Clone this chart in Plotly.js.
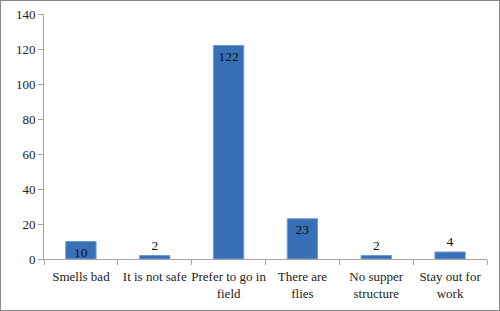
<!DOCTYPE html>
<html><head><meta charset="utf-8">
<script src="https://cdn.plot.ly/plotly-3.0.1.min.js"></script>
<style>html,body{margin:0;padding:0;background:#fff}#wrap{position:relative;width:500px;height:311px}#chart{width:500px;height:311px}#border{position:absolute;left:0;top:0;width:500px;height:311px;box-sizing:border-box;border:1.5px solid #8a8a8a;pointer-events:none}</style>
</head><body><div id="wrap"><div id="chart"></div><div id="border"></div></div>
<script>
const categories = ["Smells bad", "It is not safe", "Prefer to go in<br>field", "There are<br>flies", "No supper<br>structure", "Stay out for<br>work"];
const values = [10, 2, 122, 23, 2, 4];
const labelPos = ["inside", "outside", "inside", "inside", "outside", "outside"];
const yTicks = [0, 20, 40, 60, 80, 100, 120, 140];
const FONT = "'Liberation Serif', 'Times New Roman', 'DejaVu Serif', serif";

Plotly.newPlot('chart', [{
  type: 'bar', x: categories, y: values,
  text: values.map(String), textposition: labelPos, insidetextanchor: 'end', textangle: 0,
  constraintext: 'none',
  textfont: {family: FONT, size: 13.5, color: '#111'},
  outsidetextfont: {family: FONT, size: 13.5, color: '#111'},
  insidetextfont: {family: FONT, size: 13.5, color: '#111'},
  cliponaxis: false,
  marker: {color: '#3770b6', line: {color: '#6b9ad3', width: 1}},
  hoverinfo: 'none'
}], {
  width: 500, height: 311,
  margin: {l: 44, r: 13, t: 13.5, b: 52},
  paper_bgcolor: '#fff', plot_bgcolor: '#fff',
  bargap: 0.59, showlegend: false,
  font: {family: FONT, size: 13, color: '#222'},
  xaxis: {type: 'category', tickangle: 0, ticklabelstandoff: 5, showline: true, linecolor: '#a6a6a6', linewidth: 1, ticks: 'outside', tickson: 'boundaries', ticklen: 5, tickcolor: '#a6a6a6', showgrid: false, tickfont: {family: FONT, size: 13, color: '#222'}, automargin: false},
  yaxis: {range: [0, 140], tickvals: yTicks, showline: true, linecolor: '#a6a6a6', linewidth: 1, ticks: 'outside', ticklen: 5, tickcolor: '#a6a6a6', showgrid: false, zeroline: false, tickfont: {family: FONT, size: 13, color: '#222'}, automargin: false}
}, {staticPlot: true});
</script></body></html>
